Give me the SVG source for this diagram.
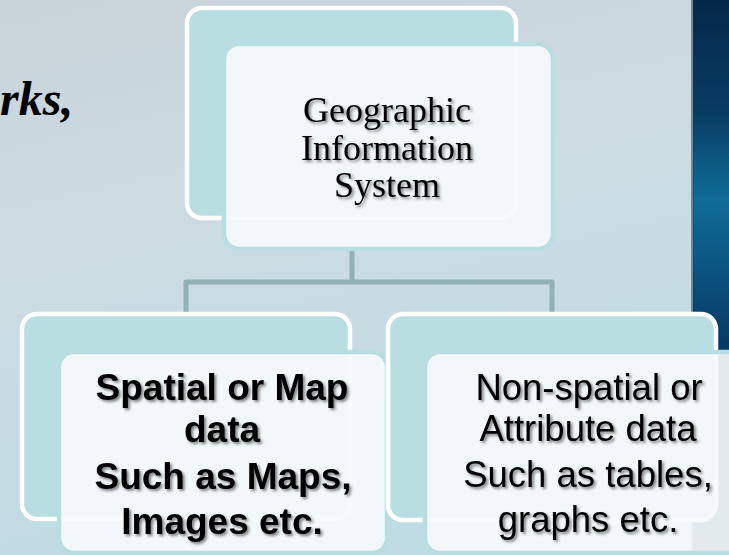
<svg xmlns="http://www.w3.org/2000/svg" width="729" height="555" viewBox="0 0 729 555">
  <defs>
    <linearGradient id="bg" x1="0" y1="0" x2="0.3" y2="1">
      <stop offset="0" stop-color="#c9d3da"/>
      <stop offset="0.45" stop-color="#ccdbe2"/>
      <stop offset="1" stop-color="#bfdbe4"/>
    </linearGradient>
    <linearGradient id="panel" x1="0" y1="0" x2="0" y2="1">
      <stop offset="0" stop-color="#05284a"/>
      <stop offset="0.2" stop-color="#083c62"/>
      <stop offset="0.36" stop-color="#0f6d97"/>
      <stop offset="0.48" stop-color="#0b5582"/>
      <stop offset="0.62" stop-color="#073a63"/>
      <stop offset="1" stop-color="#06304f"/>
    </linearGradient>
    <filter id="txtShadow" x="-10%" y="-20%" width="120%" height="150%">
      <feGaussianBlur in="SourceAlpha" stdDeviation="1.4"/>
      <feOffset dx="1.5" dy="1.5" result="b"/>
      <feComponentTransfer><feFuncA type="linear" slope="0.5"/></feComponentTransfer>
      <feMerge><feMergeNode/><feMergeNode in="SourceGraphic"/></feMerge>
    </filter>
  </defs>
  <style>
    .back { fill: #b8dee1; stroke: #ffffff; stroke-width: 4.5; }
    .front { fill: #f6fafb; fill-opacity: 0.92; stroke: #b8dee1; stroke-width: 4.5; }
    .link { fill: none; stroke: #91b1b4; stroke-width: 5; stroke-linejoin: round; }
    .serif { font-family: "Liberation Serif", "Times New Roman", serif; fill: #000; }
    .sans { font-family: "Liberation Sans", Arial, sans-serif; fill: #000; }
    .lbl { text-anchor: middle; }
  </style>

  <!-- slide background -->
  <rect x="0" y="0" width="729" height="555" fill="url(#bg)"/>
  <rect x="693" y="0" width="36" height="555" fill="url(#panel)"/>
  <rect x="691" y="0" width="3" height="555" fill="#1c3448" opacity="0.5"/>

  <!-- partial title text at the left edge -->
  <text class="serif" x="0" y="115" font-size="48" font-weight="bold" font-style="italic">rks,</text>

  <!-- connectors -->
  <g id="connectors">
    <path class="link" d="M352 250 V282"/>
    <path class="link" d="M186 312 V282 H552 V312"/>
  </g>

  <!-- root node -->
  <g id="node-gis">
    <rect class="back" x="187" y="8" width="329" height="210" rx="15"/>
    <rect class="front" x="224" y="44" width="329" height="205" rx="15"/>
    <g class="serif lbl" font-size="36" filter="url(#txtShadow)">
      <text x="387" y="122">Geographic</text>
      <text x="387" y="160">Information</text>
      <text x="387" y="197">System</text>
    </g>
  </g>

  <!-- spatial data node -->
  <g id="node-spatial">
    <rect class="back" x="22" y="314" width="328" height="205" rx="15"/>
    <rect class="front" x="59" y="352" width="328" height="201" rx="15"/>
    <g class="sans lbl" font-size="37" font-weight="bold" filter="url(#txtShadow)">
      <text x="222" y="400">Spatial or Map</text>
      <text x="222" y="442">data</text>
      <text x="223" y="489">Such as Maps,</text>
      <text x="222" y="534">Images etc.</text>
    </g>
  </g>

  <!-- non-spatial data node -->
  <g id="node-nonspatial">
    <rect class="back" x="388" y="314" width="328" height="206" rx="15"/>
    <rect class="front" x="425" y="352" width="328" height="201" rx="15"/>
    <g class="sans lbl" font-size="36.5" filter="url(#txtShadow)">
      <text x="589" y="400">Non-spatial or</text>
      <text x="588" y="441">Attribute data</text>
      <text x="588" y="487">Such as tables,</text>
      <text x="588" y="532">graphs etc.</text>
    </g>
  </g>
</svg>
